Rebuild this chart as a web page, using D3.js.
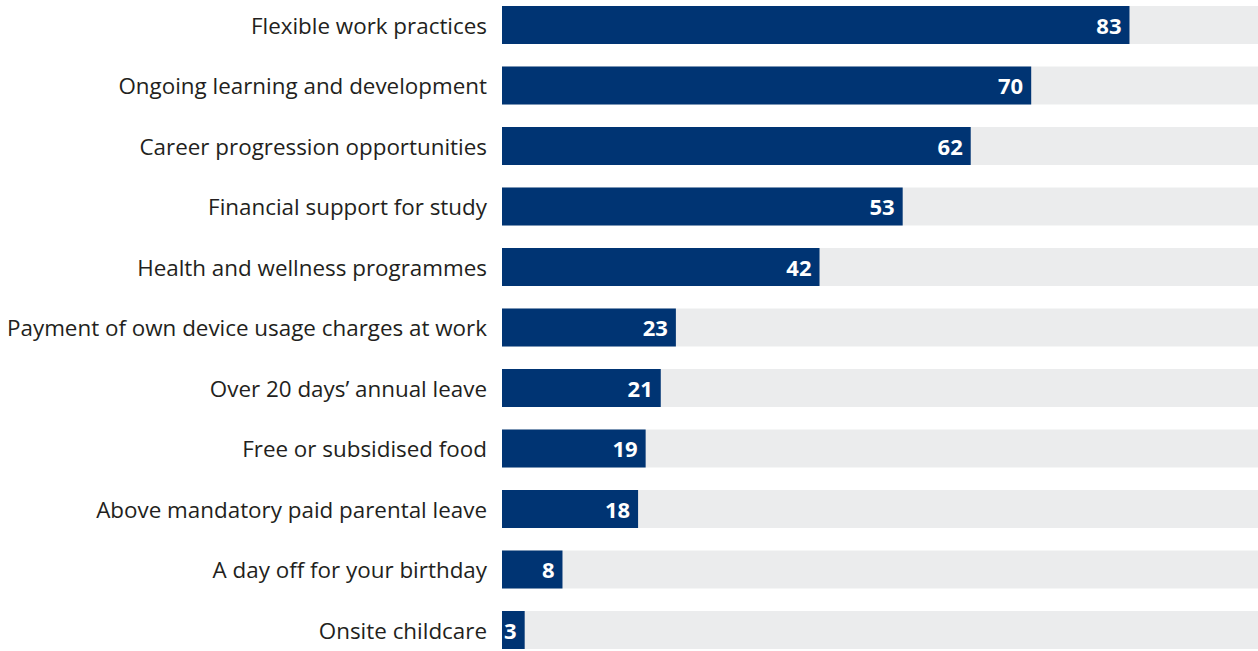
<!DOCTYPE html>
<html>
<head>
<meta charset="utf-8">
<script src="https://cdn.jsdelivr.net/npm/d3@7"></script>
<style>
  body { margin: 0; background: #fff; }
  svg { display: block; }
</style>
</head>
<body>
<div class="chartContainer"></div>
<script>
// benefit categories and percentages
var categories = [
    "Flexible work practices",
    "Ongoing learning and development",
    "Career progression opportunities",
    "Financial support for study",
    "Health and wellness programmes",
    "Payment of own device usage charges at work",
    "Over 20 days\u2019 annual leave",
    "Free or subsidised food",
    "Above mandatory paid parental leave",
    "A day off for your birthday",
    "Onsite childcare"
];
var values = [83, 70, 62, 53, 42, 23, 21, 19, 18, 8, 3];
var maxValue = 100;

window.onload = drawChart();

function drawChart(){
    var width = 1258,
        height = 651;

    var svg = d3.select("div.chartContainer")
        .append("svg")
        .attr("width", width)
        .attr("height", height);

    //x scale runs across the grey track
    var x = d3.scaleLinear()
        .domain([0, maxValue])
        .range([502, 1258]);

    var y = d3.scaleBand()
        .domain(categories)
        .range([-5.25, 660.25])
        .paddingInner(0.372)
        .paddingOuter(0.186);

    var rows = svg.selectAll(".row")
        .data(categories)
        .enter()
        .append("g")
        .attr("class", "row");

    //grey background track
    rows.append("rect")
        .attr("x", x(0))
        .attr("y", function(d){ return y(d); })
        .attr("width", x(maxValue) - x(0))
        .attr("height", y.bandwidth())
        .attr("fill", "#ebeced");

    //value bar
    rows.append("rect")
        .attr("x", x(0))
        .attr("y", function(d){ return y(d); })
        .attr("width", function(d, i){ return x(values[i]) - x(0); })
        .attr("height", y.bandwidth())
        .attr("fill", "#003473");

    //category labels
    rows.append("text")
        .attr("x", 487)
        .attr("y", function(d){ return y(d) + y.bandwidth() / 2 + 1; })
        .attr("dy", "0.35em")
        .attr("text-anchor", "end")
        .style("font-family", "'Open Sans', sans-serif")
        .style("font-size", "22.4px")
        .style("fill", "#231f20")
        .text(function(d){ return d; });

    //value labels inside bar end
    rows.append("text")
        .attr("x", function(d, i){ return x(values[i]) - 8; })
        .attr("y", function(d){ return y(d) + y.bandwidth() / 2 + 1; })
        .attr("dy", "0.36em")
        .attr("text-anchor", "end")
        .style("font-family", "'Open Sans', sans-serif")
        .style("font-size", "22px")
        .style("font-weight", "bold")
        .style("fill", "#fff")
        .text(function(d, i){ return values[i]; });
}
</script>
</body>
</html>
